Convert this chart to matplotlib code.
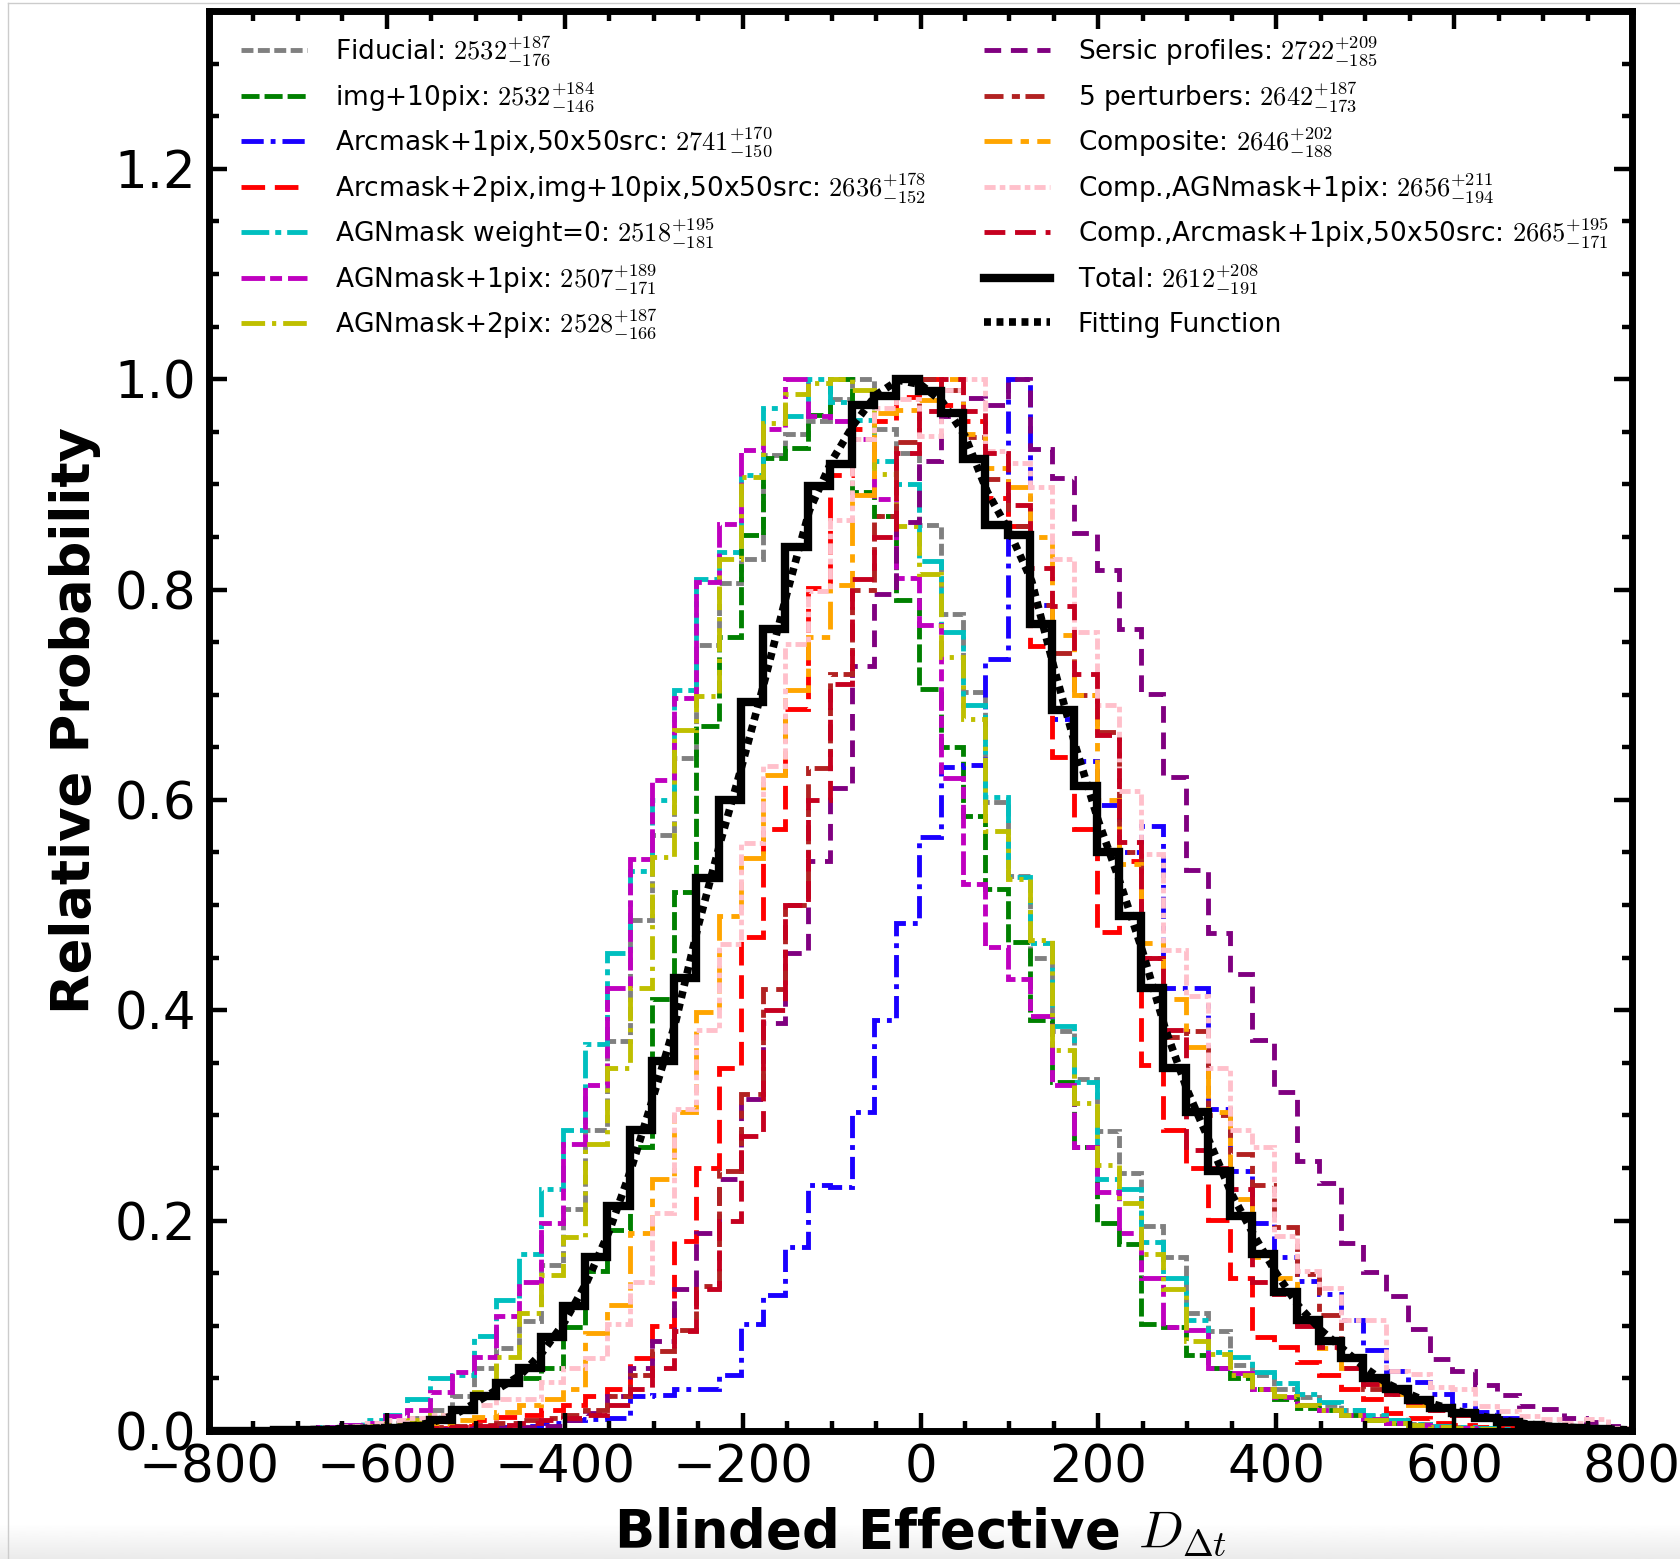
import numpy as np
import matplotlib
matplotlib.use('Agg')
import matplotlib.pyplot as plt
from matplotlib.lines import Line2D
from matplotlib.ticker import MultipleLocator

plt.rcParams['mathtext.fontset'] = 'cm'
plt.rcParams['font.family'] = ['DejaVu Sans']
plt.rcParams['lines.scale_dashes'] = False

# histogram bin edges (64 bins of width 25)
bin_edges = np.arange(-802, 800, 25)

fiducial = [0, 0, 0, 0, 0, 0.002, 0.004, 0.006,
            0.008, 0.012, 0.020, 0.033, 0.060, 0.079, 0.105, 0.158,
            0.211, 0.286, 0.371, 0.486, 0.567, 0.640, 0.747, 0.806,
            0.829, 0.928, 0.948, 0.960, 0.981, 1.0, 0.953, 0.930,
            0.861, 0.777, 0.703, 0.598, 0.528, 0.450, 0.380, 0.335,
            0.285, 0.245, 0.195, 0.165, 0.112, 0.095, 0.063, 0.053,
            0.040, 0.032, 0.025, 0.020, 0.014, 0.010, 0.007, 0.005,
            0.004, 0.003, 0.002, 0.001, 0.001, 0, 0, 0]
img10 = [0, 0, 0, 0, 0, 0, 0.001, 0.002,
         0.004, 0.006, 0.010, 0.020, 0.035, 0.045, 0.050, 0.060,
         0.099, 0.152, 0.191, 0.270, 0.411, 0.512, 0.670, 0.755,
         0.852, 0.925, 0.935, 0.966, 1.0, 0.893, 0.870, 0.790,
         0.705, 0.650, 0.585, 0.515, 0.465, 0.391, 0.332, 0.270,
         0.198, 0.178, 0.102, 0.099, 0.072, 0.060, 0.050, 0.040,
         0.030, 0.022, 0.020, 0.015, 0.010, 0.008, 0.006, 0.004,
         0.003, 0.002, 0.001, 0.001, 0, 0, 0, 0]
arc1 = [0, 0, 0, 0, 0, 0, 0, 0,
        0, 0, 0, 0.001, 0.002, 0.004, 0.005, 0.008,
        0.010, 0.011, 0.012, 0.033, 0.034, 0.040, 0.040, 0.053,
        0.102, 0.129, 0.175, 0.234, 0.232, 0.303, 0.391, 0.483,
        0.565, 0.631, 0.633, 0.734, 1.0, 0.785, 0.677, 0.637,
        0.595, 0.550, 0.575, 0.421, 0.421, 0.306, 0.247, 0.198,
        0.165, 0.143, 0.130, 0.106, 0.077, 0.057, 0.047, 0.035,
        0.025, 0.018, 0.012, 0.008, 0.005, 0.003, 0.002, 0.001]
arc2 = [0, 0, 0, 0, 0, 0, 0, 0,
        0.001, 0.002, 0.003, 0.005, 0.010, 0.013, 0.015, 0.020,
        0.025, 0.033, 0.040, 0.069, 0.100, 0.181, 0.250, 0.345,
        0.470, 0.572, 0.686, 0.801, 0.909, 0.953, 0.960, 0.983,
        1.0, 0.975, 0.960, 0.887, 0.860, 0.746, 0.641, 0.572,
        0.474, 0.542, 0.348, 0.286, 0.250, 0.201, 0.145, 0.089,
        0.080, 0.066, 0.053, 0.040, 0.030, 0.017, 0.012, 0.008,
        0.006, 0.004, 0.003, 0.002, 0.001, 0.001, 0, 0]
agn_w0 = [0, 0, 0, 0, 0.002, 0.004, 0.006, 0.010,
          0.015, 0.030, 0.050, 0.053, 0.090, 0.125, 0.168, 0.230,
          0.286, 0.368, 0.454, 0.532, 0.600, 0.704, 0.810, 0.836,
          0.909, 0.973, 0.965, 1.0, 0.978, 0.961, 0.922, 0.900,
          0.827, 0.760, 0.690, 0.603, 0.527, 0.464, 0.385, 0.332,
          0.240, 0.230, 0.180, 0.145, 0.106, 0.075, 0.070, 0.056,
          0.046, 0.035, 0.028, 0.020, 0.015, 0.010, 0.007, 0.005,
          0.004, 0.003, 0.002, 0.001, 0.001, 0, 0, 0]
agn1 = [0, 0, 0, 0.001, 0.002, 0.004, 0.006, 0.008,
        0.014, 0.020, 0.037, 0.056, 0.070, 0.109, 0.142, 0.198,
        0.273, 0.329, 0.421, 0.544, 0.619, 0.697, 0.807, 0.862,
        0.933, 0.953, 1.0, 0.965, 0.960, 0.943, 0.886, 0.811,
        0.766, 0.621, 0.520, 0.460, 0.430, 0.395, 0.329, 0.270,
        0.227, 0.188, 0.145, 0.099, 0.096, 0.060, 0.055, 0.040,
        0.032, 0.025, 0.020, 0.015, 0.011, 0.008, 0.006, 0.004,
        0.003, 0.002, 0.001, 0.001, 0, 0, 0, 0]
agn2 = [0, 0, 0, 0, 0.001, 0.002, 0.003, 0.005,
        0.007, 0.010, 0.015, 0.020, 0.037, 0.070, 0.112, 0.148,
        0.184, 0.273, 0.345, 0.421, 0.546, 0.666, 0.699, 0.829,
        0.907, 0.958, 0.986, 0.996, 1.0, 0.990, 0.910, 0.860,
        0.815, 0.736, 0.677, 0.570, 0.525, 0.467, 0.362, 0.312,
        0.253, 0.217, 0.168, 0.135, 0.086, 0.073, 0.053, 0.040,
        0.033, 0.025, 0.020, 0.015, 0.010, 0.008, 0.006, 0.004,
        0.003, 0.002, 0.001, 0.001, 0, 0, 0, 0]
sersic = [0, 0, 0, 0, 0, 0, 0.001, 0.001,
          0.001, 0.001, 0.002, 0.002, 0.003, 0.003, 0.004, 0.005,
          0.010, 0.017, 0.033, 0.060, 0.086, 0.135, 0.188, 0.240,
          0.316, 0.388, 0.454, 0.542, 0.611, 0.727, 0.796, 0.864,
          0.922, 0.965, 0.982, 0.975, 1.0, 0.934, 0.906, 0.854,
          0.819, 0.762, 0.701, 0.622, 0.533, 0.473, 0.434, 0.372,
          0.322, 0.257, 0.236, 0.179, 0.151, 0.128, 0.097, 0.068,
          0.057, 0.044, 0.034, 0.024, 0.021, 0.012, 0.009, 0.005]
perturbers = [0, 0, 0, 0, 0, 0, 0, 0.001,
              0.002, 0.003, 0.004, 0.005, 0.006, 0.008, 0.010, 0.012,
              0.015, 0.020, 0.033, 0.053, 0.076, 0.096, 0.138, 0.247,
              0.320, 0.420, 0.500, 0.630, 0.720, 0.800, 0.870, 0.940,
              1.0, 0.990, 0.945, 0.905, 0.860, 0.785, 0.740, 0.700,
              0.665, 0.550, 0.450, 0.375, 0.380, 0.300, 0.263, 0.234,
              0.194, 0.149, 0.110, 0.070, 0.040, 0.035, 0.030, 0.022,
              0.018, 0.014, 0.010, 0.007, 0.005, 0.003, 0.002, 0.001]
composite = [0, 0, 0, 0, 0, 0.001, 0.002, 0.003,
             0.004, 0.005, 0.007, 0.010, 0.013, 0.018, 0.025, 0.030,
             0.040, 0.093, 0.120, 0.188, 0.240, 0.303, 0.398, 0.490,
             0.545, 0.624, 0.704, 0.755, 0.804, 0.890, 0.968, 0.971,
             0.980, 1.0, 0.948, 0.916, 0.897, 0.850, 0.757, 0.700,
             0.600, 0.539, 0.464, 0.411, 0.365, 0.303, 0.221, 0.165,
             0.145, 0.102, 0.079, 0.060, 0.045, 0.035, 0.025, 0.020,
             0.015, 0.011, 0.008, 0.006, 0.004, 0.003, 0.002, 0.001]
comp_agn = [0, 0, 0, 0, 0.001, 0.003, 0.005, 0.008,
            0.010, 0.012, 0.015, 0.020, 0.025, 0.030, 0.030, 0.047,
            0.060, 0.069, 0.102, 0.142, 0.207, 0.306, 0.381, 0.463,
            0.559, 0.632, 0.748, 0.799, 0.866, 0.943, 0.973, 0.981,
            0.946, 0.990, 1.0, 0.932, 0.920, 0.897, 0.829, 0.760,
            0.690, 0.608, 0.549, 0.457, 0.414, 0.345, 0.286, 0.270,
            0.185, 0.152, 0.136, 0.106, 0.106, 0.057, 0.054, 0.042,
            0.040, 0.024, 0.019, 0.014, 0.011, 0.008, 0.011, 0.003]
comp_arc = [0, 0, 0, 0, 0, 0, 0, 0.001,
            0.001, 0.002, 0.003, 0.004, 0.005, 0.006, 0.008, 0.010,
            0.012, 0.015, 0.025, 0.040, 0.060, 0.095, 0.135, 0.200,
            0.280, 0.400, 0.500, 0.600, 0.710, 0.810, 0.850, 0.930,
            0.970, 1.0, 0.970, 0.930, 0.880, 0.820, 0.784, 0.720,
            0.662, 0.560, 0.450, 0.381, 0.267, 0.250, 0.230, 0.142,
            0.130, 0.100, 0.080, 0.060, 0.045, 0.035, 0.028, 0.020,
            0.015, 0.012, 0.009, 0.006, 0.004, 0.003, 0.002, 0.001]
total = [0, 0, 0, 0.001, 0.001, 0.001, 0.002, 0.002,
         0.003, 0.005, 0.010, 0.020, 0.033, 0.046, 0.060, 0.089,
         0.119, 0.165, 0.214, 0.286, 0.352, 0.431, 0.526, 0.600,
         0.693, 0.762, 0.840, 0.898, 0.919, 0.975, 0.984, 1.0,
         0.989, 0.968, 0.924, 0.861, 0.852, 0.767, 0.685, 0.613,
         0.550, 0.490, 0.421, 0.345, 0.303, 0.247, 0.204, 0.168,
         0.132, 0.106, 0.086, 0.069, 0.050, 0.040, 0.029, 0.022,
         0.017, 0.0125, 0.009, 0.006, 0.004, 0.003, 0.002, 0.0]

fit_x = [-700, -650, -600, -575, -550, -525, -500, -475, -450, -425, -400,
         -375, -350, -325, -300, -275, -250, -225, -200, -175, -150, -125,
         -100, -75, -50, -25, 0, 25, 50, 75, 100, 125, 150, 175, 200, 225,
         250, 275, 300, 325, 350, 375, 400, 425, 450, 475, 500, 525, 550,
         575, 600, 625, 650, 675, 700, 750, 800]
fit_y = [0.001, 0.002, 0.003, 0.004, 0.008, 0.015, 0.027, 0.040, 0.053, 0.075, 0.104,
         0.142, 0.190, 0.250, 0.319, 0.390, 0.480, 0.560, 0.635, 0.714, 0.797, 0.875,
         0.922, 0.957, 0.985, 0.999, 0.995, 0.978, 0.946, 0.893, 0.855, 0.808, 0.726,
         0.649, 0.580, 0.520, 0.455, 0.383, 0.324, 0.275, 0.225, 0.186, 0.150, 0.119,
         0.096, 0.078, 0.060, 0.045, 0.035, 0.026, 0.020, 0.015, 0.011, 0.0075, 0.005,
         0.0025, 0.001]

labels = ['Fiducial: $2532^{+187}_{-176}$',
          'img+10pix: $2532^{+184}_{-146}$',
          'Arcmask+1pix,50x50src: $2741^{+170}_{-150}$',
          'Arcmask+2pix,img+10pix,50x50src: $2636^{+178}_{-152}$',
          'AGNmask weight=0: $2518^{+195}_{-181}$',
          'AGNmask+1pix: $2507^{+189}_{-171}$',
          'AGNmask+2pix: $2528^{+187}_{-166}$',
          'Sersic profiles: $2722^{+209}_{-185}$',
          '5 perturbers: $2642^{+187}_{-173}$',
          'Composite: $2646^{+202}_{-188}$',
          'Comp.,AGNmask+1pix: $2656^{+211}_{-194}$',
          'Comp.,Arcmask+1pix,50x50src: $2665^{+195}_{-171}$',
          'Total: $2612^{+208}_{-191}$']
fit_label = 'Fitting Function'

data = [fiducial, img10, arc1, arc2, agn_w0, agn1, agn2,
        sersic, perturbers, composite, comp_agn, comp_arc, total]
colors = ['#808080', '#008000', '#1a00ff', '#ff0000', '#00bfbf', '#bf00bf', '#bfbf00',
          '#800080', '#b22222', '#ffa500', '#ffc0cb', '#c5001f', '#000000']
styles = [(0, (8.6, 3.2)),
          (0, (13, 3.6)),
          (0, (16, 5, 3.5, 5)),
          (0, (17, 7)),
          (0, (20, 4.3, 4.3, 4.3)),
          (0, (17, 3.6, 8.6, 4.3)),
          (0, (17, 5, 3, 5)),
          (0, (12, 7)),
          (0, (13.7, 6, 5.8, 4)),
          (0, (20, 6, 6, 6)),
          (0, (8, 3, 4, 3)),
          (0, (15, 7)),
          '-']
widths = [3.5] * 12 + [6.0]

fig = plt.figure(figsize=(16.81, 15.59), dpi=100)

# faint bottom shading band of the original screenshot
bg = fig.add_axes([0, 0, 1, 36 / 1559], zorder=-5)
bg.imshow(np.linspace(1.0, 0.92, 50).reshape(-1, 1), cmap='gray', vmin=0, vmax=1,
          aspect='auto', extent=[0, 1, 0, 1], origin='upper')
bg.set_axis_off()

ax = fig.add_axes([209 / 1681, 1 - 1431 / 1559, 1423 / 1681, 1420 / 1559])
ax.patch.set_alpha(0)

handles = []
for vals, c, ls, lw in zip(data, colors, styles, widths):
    ax.stairs(vals, bin_edges, color=c, linestyle=ls, linewidth=lw, baseline=0)
    handles.append(Line2D([], [], color=c, linestyle=ls, linewidth=lw))
ax.plot(fit_x, fit_y, color='k', linestyle=(0, (5, 4)), linewidth=5.5)
fit_handle = Line2D([], [], color='k', linestyle=(0, (5, 4)), linewidth=5.5)

ax.set_xlim(-800, 800)
ax.set_ylim(0, 1.35)
ax.xaxis.set_major_locator(MultipleLocator(200))
ax.xaxis.set_minor_locator(MultipleLocator(50))
ax.yaxis.set_major_locator(MultipleLocator(0.2))
ax.yaxis.set_minor_locator(MultipleLocator(0.05))
ax.tick_params(which='both', direction='in', top=True, right=True, width=3.2)
ax.tick_params(which='major', length=13, labelsize=37, pad=9)
ax.tick_params(which='minor', length=7)
for sp in ax.spines.values():
    sp.set_linewidth(5)

ax.set_xlabel('Blinded Effective $D_{\\Delta t}$', fontsize=38, fontweight='bold', labelpad=9)
ax.set_ylabel('Relative Probability', fontsize=38, fontweight='bold', labelpad=10)

leg_kw = dict(frameon=False, fontsize=19, handlelength=2.5, handletextpad=1.05,
              labelspacing=0.44, borderpad=0, borderaxespad=0)
x1 = (241 - 209) / 1423
x2 = (984 - 209) / 1423
leg1 = ax.legend(handles[:7], labels[:7], loc='upper left', bbox_to_anchor=(x1, 0.9835), **leg_kw)
ax.add_artist(leg1)
leg2 = ax.legend(handles[7:], labels[7:], loc='upper left', bbox_to_anchor=(x2, 0.9835), **leg_kw)
ax.add_artist(leg2)
leg3 = ax.legend([fit_handle], [fit_label], loc='center left',
                 bbox_to_anchor=(x2, 1 - (324.5 - 11) / 1420), **leg_kw)

fig.add_artist(Line2D([8 / 1681, 8 / 1681], [0, 1 - 3 / 1559], color='#cccccc', lw=1))
fig.add_artist(Line2D([8 / 1681, 1], [1 - 3 / 1559, 1 - 3 / 1559], color='#cccccc', lw=1))

fig.savefig('out.png', dpi=100)
